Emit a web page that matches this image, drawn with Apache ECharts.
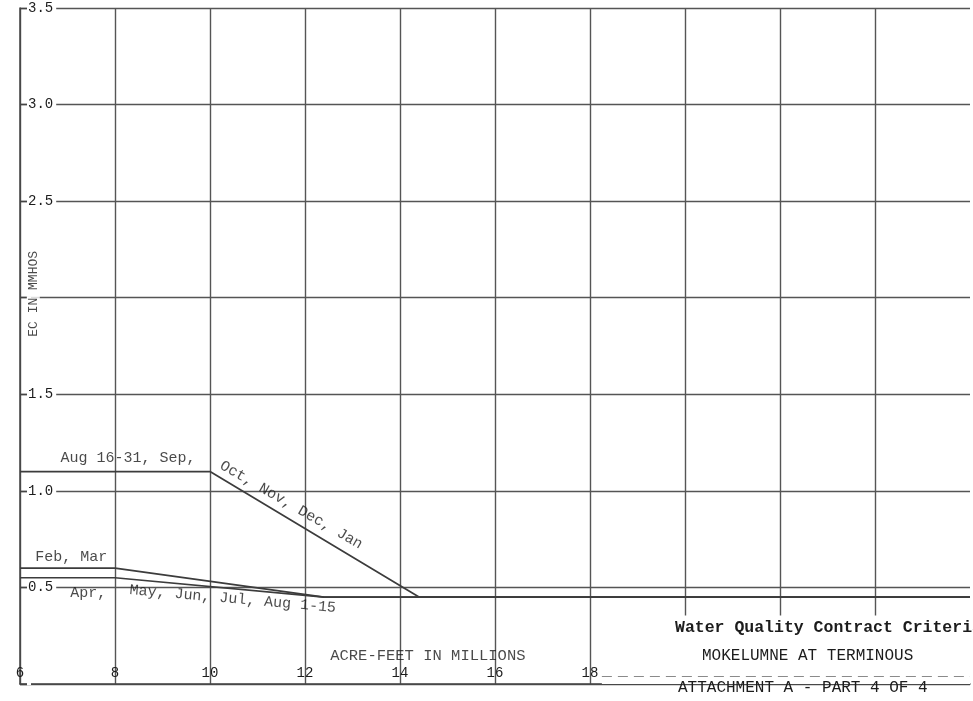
<!DOCTYPE html>
<html>
<head>
<meta charset="utf-8">
<script src="https://cdn.jsdelivr.net/npm/echarts@6/dist/echarts.min.js"></script>
<style>
html,body{margin:0;padding:0;background:#fff;}
#chart{width:973px;height:701px;}
</style>
</head>
<body>
<div id="chart"></div>
<script>
// ---- data ----
const xTickValues = [6, 8, 10, 12, 14, 16, 18, 20, 22, 24, 26];
const xTickLabels = ['6', '8', '10', '12', '14', '16', '18', '', '', '', ''];
const yTickValues = [0, 0.5, 1.0, 1.5, 2.0, 2.5, 3.0, 3.5];
const yTickLabels = ['', '0.5', '1.0', '1.5', '', '2.5', '3.0', '3.5'];

const augJanX = [6, 10, 14.4, 26];
const augJanY = [1.1, 1.1, 0.45, 0.45];
const febMarX = [6, 8, 12.4, 26];
const febMarY = [0.6, 0.6, 0.45, 0.45];
const aprAugX = [6, 8, 12.4, 26];
const aprAugY = [0.55, 0.55, 0.45, 0.45];

const noteText = ['Aug 16-31, Sep,', 'Oct, Nov, Dec, Jan', 'Feb, Mar', 'Apr,', 'May, Jun, Jul, Aug 1-15', 'ACRE-FEET IN MILLIONS', 'EC IN MMHOS'];
const noteX = [6.85, 11.71, 6.32, 7.06, 10.48, 12.53, 6.28];
const noteY = [1.17, 0.927, 0.658, 0.471, 0.44, 0.145, 2.02];
const noteRotate = [0, -30, 0, 0, -5, 0, 90];
const noteAlign = ['left', 'center', 'left', 'left', 'center', 'left', 'center'];

// title block region (in data units) where the grid is not printed
const blockX = [18.25, 26];
const blockY = [0, 0.355];
const blockRuleY = 0.04;

const titleLines = ['Water Quality Contract Criteria', 'MOKELUMNE AT TERMINOUS', 'ATTACHMENT A - PART 4 OF 4'];

// ---- chart ----
const FONT = '"Liberation Mono", "DejaVu Sans Mono", monospace';
const INK = '#1c1c1c';
const GRID = '#555';

function pairs(xs, ys) { return xs.map((x, i) => [x, ys[i]]); }
function lineSeries(name, xs, ys) {
  return {
    name: name, type: 'line', data: pairs(xs, ys), showSymbol: false, symbol: 'none',
    lineStyle: { color: '#3c3c3c', width: 1.7 }, z: 3, silent: true
  };
}

const chart = echarts.init(document.getElementById('chart'), null, { renderer: 'canvas' });
const option = {
  backgroundColor: '#fff',
  animation: false,
  title: titleLines.map((t, i) => ({
    text: t,
    left: [675, 702, 678][i],
    top: [619, 648, 680][i],
    padding: 0,
    z: 10,
    textStyle: {
      fontFamily: FONT, fontSize: i === 0 ? 16.5 : 16, color: INK,
      fontWeight: i === 0 ? 'bold' : 'normal'
    }
  })),
  grid: { left: 20, right: 0, top: 8, bottom: 17, containLabel: false },
  xAxis: {
    type: 'value', min: 6, max: 26, interval: 2,
    axisLine: { show: true, lineStyle: { color: '#444', width: 1.5 } },
    axisTick: { show: false },
    splitLine: { show: true, showMaxLine: false, lineStyle: { color: GRID, width: 1.4 } },
    axisLabel: {
      inside: true, margin: 4, fontFamily: FONT, fontSize: 14, color: INK,
      formatter: v => { const i = xTickValues.indexOf(v); return i >= 0 ? xTickLabels[i] : ''; }
    }
  },
  yAxis: [
    {
      type: 'value', min: 0, max: 3.5, interval: 0.5, z: 0,
      axisLine: { show: true, lineStyle: { color: '#444', width: 1.5 } },
      axisTick: { show: false },
      axisLabel: { show: false },
      splitLine: { show: true, lineStyle: { color: GRID, width: 1.4 } }
    },
    {
      type: 'value', min: 0, max: 3.5, interval: 0.5, position: 'left', z: 5,
      axisLine: { show: false },
      axisTick: { show: true, inside: true, length: 7, lineStyle: { color: '#444', width: 1.4 } },
      splitLine: { show: false },
      axisLabel: {
        inside: true, margin: 7, fontFamily: FONT, fontSize: 14, color: INK,
        backgroundColor: '#fff', padding: [1, 3, 1, 1],
        formatter: v => {
          const i = yTickValues.findIndex(t => Math.abs(t - v) < 1e-6);
          return i >= 0 ? yTickLabels[i] : '';
        }
      }
    }
  ],
  series: [
    lineSeries('Aug 16-31 to Jan', augJanX, augJanY),
    lineSeries('Feb, Mar', febMarX, febMarY),
    lineSeries('Apr to Aug 1-15', aprAugX, aprAugY),
    {
      name: 'title block', type: 'line', data: [], z: 4, silent: true,
      markArea: {
        silent: true,
        itemStyle: { color: '#fff', opacity: 1 },
        data: [[{ coord: [blockX[0], blockY[0]] }, { coord: [blockX[1], blockY[1]] }]]
      },
      markLine: {
        silent: true, symbol: 'none', label: { show: false },
        lineStyle: { color: '#8a8a8a', width: 1.2, type: [10, 6] },
        data: [[{ coord: [blockX[0], blockRuleY] }, { coord: [blockX[1], blockRuleY] }]]
      }
    },
    {
      name: 'notes', type: 'scatter', symbolSize: 0, silent: true, z: 6,
      data: noteText.map((t, i) => ({
        value: [noteX[i], noteY[i]],
        label: {
          show: true, formatter: t, position: 'inside', rotate: noteRotate[i],
          align: noteAlign[i], verticalAlign: 'middle',
          fontFamily: FONT, fontSize: i === 6 ? 13 : (i === 5 ? 15.5 : 15), color: INK,
          backgroundColor: i === 6 ? '#fff' : 'transparent', padding: i === 6 ? [0, 3] : 0
        }
      }))
    }
  ]
};
chart.setOption(option);
</script>
</body>
</html>
